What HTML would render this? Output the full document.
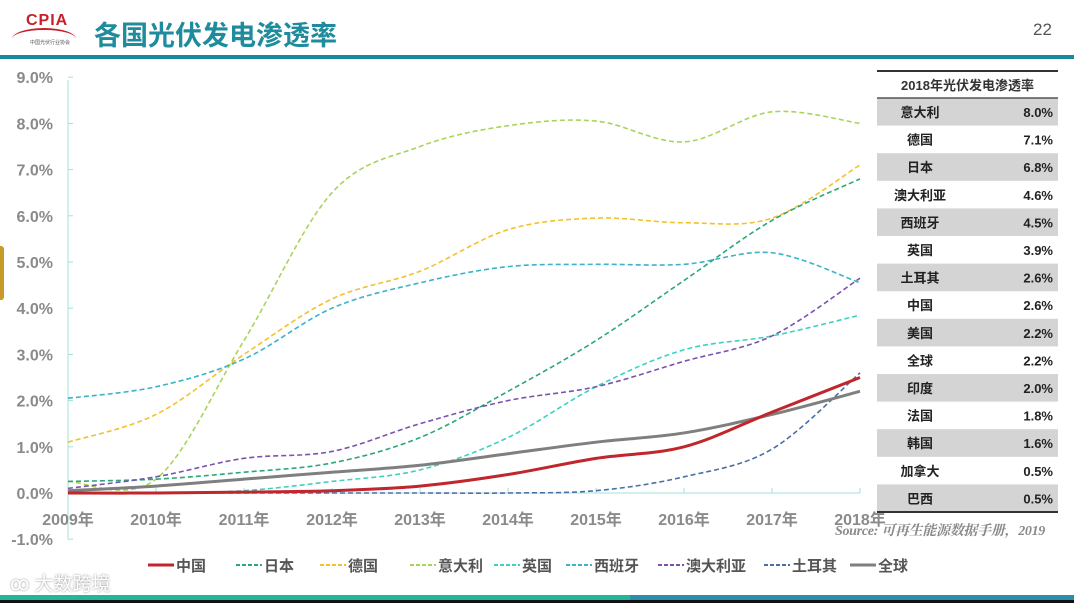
<!DOCTYPE html>
<html><head><meta charset="utf-8">
<style>
html,body{margin:0;padding:0;width:1074px;height:603px;overflow:hidden;background:#fff;font-family:"Liberation Sans","Noto Sans CJK SC",sans-serif;}
#root{position:relative;width:1074px;height:603px;}
.abs{position:absolute;}
</style></head>
<body><div id="root">
<div class="abs" style="left:10px;top:8px;width:70px;height:40px;">
  <div style="position:absolute;left:16px;top:4px;font:bold 16px 'Liberation Sans',sans-serif;color:#c8202a;letter-spacing:1px;">CPIA</div>
  <div style="position:absolute;left:2px;top:20px;width:64px;height:20px;border-top:2px solid #c8202a;border-radius:50% 50% 0 0;"></div>
  <div style="position:absolute;left:20px;top:31px;font-size:5px;color:#555;">中国光伏行业协会</div>
</div>
<div class="abs" style="left:94px;top:14px;font-size:27px;font-weight:bold;color:#1e8c9c;font-family:'Liberation Sans','Noto Sans CJK SC',sans-serif;">各国光伏发电渗透率</div>
<div class="abs" style="left:1033px;top:20px;font-size:17px;color:#555;">22</div>
<div class="abs" style="left:0;top:55px;width:1074px;height:4px;background:#1a8a9a;"></div>
<div class="abs" style="left:0;top:246px;width:4px;height:54px;background:#c79a2a;border-radius:0 3px 3px 0;"></div>

<svg class="abs" style="left:0;top:0" width="1074" height="603" id="chart"></svg>

<div class="abs" style="left:835px;top:520px;font:italic bold 14px 'Liberation Serif','Noto Serif CJK SC',serif;color:#8a8a8a;letter-spacing:-0.3px;">Source: 可再生能源数据手册，2019</div>

<div class="abs" style="left:10px;top:569px;font-size:19px;color:#fff;text-shadow:0 0 2px #888;">ꝏ 大数跨境</div>
<div class="abs" style="left:0;top:595px;width:630px;height:5px;background:#1fb89a;"></div>
<div class="abs" style="left:630px;top:595px;width:444px;height:5px;background:#2a8fae;"></div>
<div class="abs" style="left:0;top:600px;width:1074px;height:3px;background:#111;"></div>
</div>
<script>
const years=["2009年","2010年","2011年","2012年","2013年","2014年","2015年","2016年","2017年","2018年"];
const yTicks=[-1,0,1,2,3,4,5,6,7,8,9];
const seriesNames=["中国","日本","德国","意大利","英国","西班牙","澳大利亚","土耳其","全球"];
const chinaVals=[0,0,0.02,0.05,0.15,0.4,0.75,1.0,1.75,2.5];
const japanVals=[0.25,0.3,0.45,0.65,1.2,2.2,3.3,4.6,5.9,6.8];
const germanyVals=[1.1,1.7,3.0,4.2,4.8,5.7,5.95,5.85,5.95,7.1];
const italyVals=[0.25,0.3,3.3,6.5,7.5,7.95,8.05,7.6,8.25,8.0];
const ukVals=[0,0,0.05,0.25,0.5,1.2,2.3,3.1,3.4,3.85];
const spainVals=[2.05,2.3,2.9,4.0,4.55,4.9,4.95,4.95,5.2,4.55];
const australiaVals=[0.1,0.35,0.75,0.9,1.5,2.0,2.3,2.85,3.4,4.65];
const turkeyVals=[0,0,0,0,0,0,0.05,0.35,0.95,2.6];
const globalVals=[0.05,0.15,0.3,0.45,0.6,0.85,1.1,1.3,1.7,2.2];
const tableNames=["意大利","德国","日本","澳大利亚","西班牙","英国","土耳其","中国","美国","全球","印度","法国","韩国","加拿大","巴西"];
const tableVals=["8.0%","7.1%","6.8%","4.6%","4.5%","3.9%","2.6%","2.6%","2.2%","2.2%","2.0%","1.8%","1.6%","0.5%","0.5%"];

const allVals=[chinaVals,japanVals,germanyVals,italyVals,ukVals,spainVals,australiaVals,turkeyVals,globalVals];
const colors=["#c0262c","#2aa876","#f2c12e","#a8d45a","#3fd1c0","#3bb3c8","#7b52ad","#4a6fa5","#7f7f7f"];
const NS="http://www.w3.org/2000/svg";
const svg=document.getElementById('chart');
const X0=68,X1=860,Y0=493,PPU=46.2;
const xs=i=>X0+(X1-X0)*i/(years.length-1);
const ys=v=>Y0-v*PPU;
function mk(t,a,p){const e=document.createElementNS(NS,t);for(const k in a)e.setAttribute(k,a[k]);(p||svg).appendChild(e);return e;}

let ax=mk('line',{x1:X0,y1:ys(9)+3,x2:X0,y2:ys(-1),stroke:'#9fe0d8','stroke-width':1});


let xa=mk('line',{x1:X0,y1:Y0,x2:X1,y2:Y0,stroke:'#9fe0d8','stroke-width':1});


yTicks.forEach(t=>{
  let tk=mk('line',{x1:X0,y1:ys(t),x2:X0+5,y2:ys(t),stroke:'#9fe0d8'});
  
  
  let tx=mk('text',{x:53,y:ys(t)+6,'text-anchor':'end','font-size':16,'font-weight':'bold',fill:'#8a8a8a'});
  tx.textContent=t.toFixed(1)+'%';
  
  
});
years.forEach((y,i)=>{
  let tk=mk('line',{x1:xs(i),y1:Y0,x2:xs(i),y2:Y0-5,stroke:'#9fe0d8'});
  
  
  let tx=mk('text',{x:xs(i),y:525,'text-anchor':'middle','font-size':16,'font-weight':'bold',fill:'#8a8a8a'});
  tx.textContent=y;
  
  
});
function pathD(vals){
  const p=vals.map((v,i)=>[xs(i),ys(v)]);
  let d='M'+p[0][0]+','+p[0][1];
  for(let i=0;i<p.length-1;i++){
    const a=p[Math.max(i-1,0)],b=p[i],c=p[i+1],e=p[Math.min(i+2,p.length-1)];
    const c1=[b[0]+(c[0]-a[0])/6,b[1]+(c[1]-a[1])/6],c2=[c[0]-(e[0]-b[0])/6,c[1]-(e[1]-b[1])/6];
    d+=' C'+c1+' '+c2+' '+c;
  }
  return d;
}
const order=[3,2,5,1,4,6,7,8,0];
order.forEach(k=>{
  const solid=(k===0||k===8);
  let pth=mk('path',{d:pathD(allVals[k]),fill:'none',stroke:colors[k],'stroke-width':solid?3:1.6,'stroke-dasharray':solid?'':'5,3'});
  
  
});
const legX=[148,236,320,410,494,566,658,764,850];
seriesNames.forEach((n,k)=>{
  const solid=(k===0||k===8);
  let g=mk('g',{});
  
  
  mk('line',{x1:legX[k],y1:565,x2:legX[k]+26,y2:565,stroke:colors[k],'stroke-width':solid?3:2,'stroke-dasharray':solid?'':'4,2'},g);
  let t=mk('text',{x:legX[k]+28,y:571,'font-size':15,'font-weight':'bold',fill:'#555'},g);
  t.textContent=n;
});
const TX0=877,TX1=1058,TH0=98,RH=27.6;
let tl=mk('line',{x1:TX0,y1:71,x2:TX1,y2:71,stroke:'#333','stroke-width':2});


let th=mk('text',{x:(TX0+TX1)/2,y:90,'text-anchor':'middle','font-size':13,'font-weight':'bold',fill:'#333'});
th.textContent='2018年光伏发电渗透率';


tableNames.forEach((n,i)=>{
  const y=TH0+i*RH;
  if(i%2===0){
    let r=mk('rect',{x:TX0,y:y,width:TX1-TX0,height:RH,fill:'#d4d4d4'});
    
    
  }
  let a=mk('text',{x:920,y:y+19,'text-anchor':'middle','font-size':13,'font-weight':'bold',fill:'#222'});
  a.textContent=n;
  
  
  let b=mk('text',{x:1053,y:y+19,'text-anchor':'end','font-size':13,'font-weight':'bold',fill:'#222'});
  b.textContent=tableVals[i];
  
  
});
let hl=mk('line',{x1:TX0,y1:TH0,x2:TX1,y2:TH0,stroke:'#555','stroke-width':1.5});


let bl=mk('line',{x1:TX0,y1:TH0+15*RH,x2:TX1,y2:TH0+15*RH,stroke:'#333','stroke-width':2});


</script>
</body></html>
